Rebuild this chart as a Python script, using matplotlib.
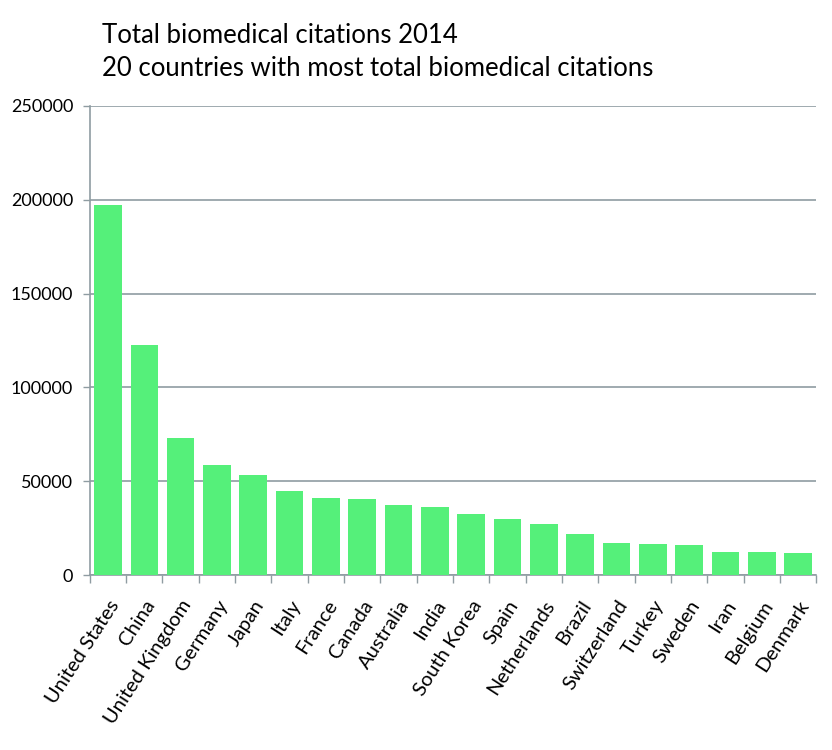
import matplotlib
matplotlib.use("Agg")
import matplotlib.pyplot as plt
import numpy as np

countries = ["United States", "China", "United Kingdom", "Germany", "Japan",
             "Italy", "France", "Canada", "Australia", "India", "South Korea",
             "Spain", "Netherlands", "Brazil", "Switzerland", "Turkey",
             "Sweden", "Iran", "Belgium", "Denmark"]
citations = [197000, 122500, 73200, 58400, 53300, 44800, 41000, 40700,
             37300, 36400, 32300, 29700, 27400, 22000, 17000, 16500,
             15800, 12400, 12200, 11500]
yticks = [0, 50000, 100000, 150000, 200000, 250000]

plt.rcParams["font.family"] = ["Lato", "DejaVu Sans"]
grid_col = "#8f9ca2"

fig = plt.figure(figsize=(8.32, 7.5), dpi=100)
ax = fig.add_axes([0.108, 0.2333, 0.873, 0.6254])

x = np.arange(len(countries))
ax.bar(x, citations, width=0.76, color="#55f07a", zorder=3)

ax.set_xlim(-0.5, len(countries) - 0.5)
ax.set_ylim(0, 250000)
ax.set_yticks(yticks)
ax.set_yticklabels([str(v) for v in yticks], fontsize=13)
ax.yaxis.grid(True, color=grid_col, linewidth=1.2, zorder=0)

# ticks sit between categories
ax.set_xticks(np.arange(-0.5, len(countries) + 0.5, 1))
ax.set_xticklabels([])
ax.set_xticks(x, minor=True)
ax.set_xticklabels(countries, minor=True, rotation=57, ha="right",
                   rotation_mode="anchor", fontsize=14.5)
ax.tick_params(axis="x", which="major", length=6, color=grid_col, width=1)
ax.tick_params(axis="x", which="minor", length=0, pad=16)
ax.tick_params(axis="y", length=5, color=grid_col, width=1, pad=7)

for s in ["top", "right"]:
    ax.spines[s].set_visible(False)
for s in ["left", "bottom"]:
    ax.spines[s].set_color(grid_col)
    ax.spines[s].set_linewidth(1.2)

fig.text(0.123, 0.953, "Total biomedical citations 2014", fontsize=18.5, va="center")
fig.text(0.123, 0.908, "20 countries with most total biomedical citations", fontsize=18.5, va="center")

fig.savefig("out.png", dpi=100)
